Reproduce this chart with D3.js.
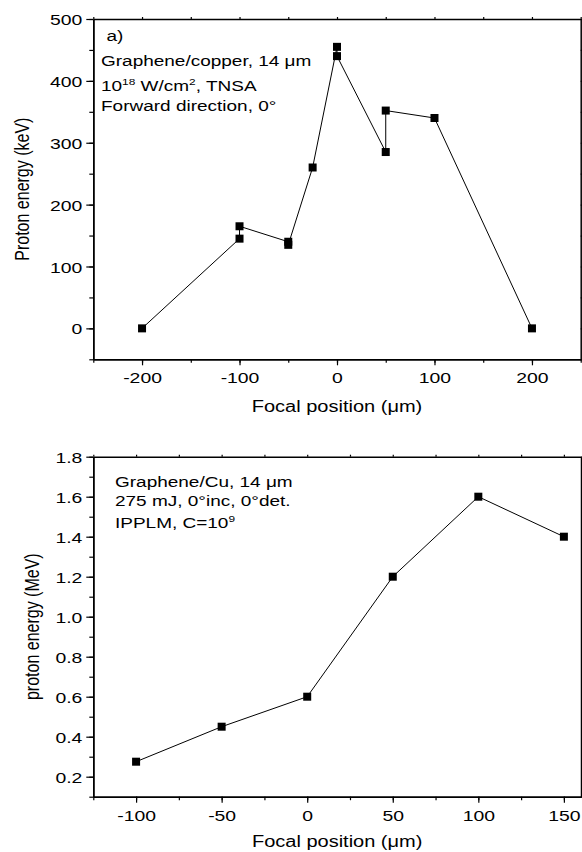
<!DOCTYPE html>
<html>
<head>
<meta charset="utf-8">
<script src="https://cdn.jsdelivr.net/npm/d3@7"></script>
<style>
	body { margin: 0; background: #fff; }
	text { font-family: 'Liberation Sans', Arial, sans-serif; fill: #000; }
</style>
</head>
<body>
<div class="container"></div>
<script>
// panel a) proton energy vs focal position
var topX = [-200, -100, -100, -50, -50, -25, 0, 0, 50, 50, 100, 200];
var topY = [0, 145, 165, 140, 135, 260, 455, 440, 285, 352, 340, 0];
var topXTicks = [-200, -100, 0, 100, 200];
var topYTicks = [0, 100, 200, 300, 400, 500];

// panel b)
var botX = [-100, -50, 0, 50, 100, 150];
var botY = [0.275, 0.45, 0.6, 1.2, 1.6, 1.4];
var botXTicks = [-100, -50, 0, 50, 100, 150];
var botYTicks = [0.2, 0.4, 0.6, 0.8, 1.0, 1.2, 1.4, 1.6, 1.8];

const WIDTH = 582;
const HEIGHT = 852;
const SX = 1.25; // the figure is stretched sideways

var svg = d3.select('.container').append('svg')
	.attr('width', WIDTH)
	.attr('height', HEIGHT);

var stretch = function(sel, x, y){
	sel.attr('x', null).attr('y', null).attr('dy', null)
		.attr('transform', 'translate(' + x + ',' + y + ') scale(' + SX + ',1)');
}

var plain = function(d){ return String(d); };
var oneDec = function(d){ return d.toFixed(1); };

var drawPanel = function(p){
	var xScale = d3.scaleLinear().domain(p.xDomain).range([p.left, p.right]);
	var yScale = d3.scaleLinear().domain(p.yDomain).range([p.bottom, p.top]);

	var minorX = d3.range(p.xDomain[0], p.xDomain[1] + 0.001, p.xMinor);
	var minorY = d3.range(p.yDomain[0], p.yDomain[1] + 0.001, p.yMinor);

	// minor ticks
	svg.append('g').attr('transform', 'translate(0,' + p.bottom + ')')
		.call(d3.axisBottom(xScale).tickValues(minorX).tickSize(3.5).tickSizeOuter(0).tickFormat(''));
	svg.append('g').attr('transform', 'translate(' + p.left + ',0)')
		.call(d3.axisLeft(yScale).tickValues(minorY).tickSize(4).tickSizeOuter(0).tickFormat(''));
	svg.append('g').attr('transform', 'translate(0,' + p.top + ')')
		.call(d3.axisTop(xScale).tickValues(minorX).tickSize(2).tickSizeOuter(0).tickFormat(''));
	svg.append('g').attr('transform', 'translate(' + p.right + ',0)')
		.call(d3.axisRight(yScale).tickValues(minorY).tickSize(3).tickSizeOuter(0).tickFormat(''));

	// major ticks with labels
	var xAxis = svg.append('g').attr('transform', 'translate(0,' + p.bottom + ')')
		.call(d3.axisBottom(xScale).tickValues(p.xTicks).tickSize(6).tickSizeOuter(0).tickFormat(p.xFormat));
	var yAxis = svg.append('g').attr('transform', 'translate(' + p.left + ',0)')
		.call(d3.axisLeft(yScale).tickValues(p.yTicks).tickSize(7).tickSizeOuter(0).tickFormat(p.yFormat));

	xAxis.selectAll('text').style('font-size', '15.5px').attr('text-anchor', 'middle')
		.each(function(){ stretch(d3.select(this), 0, 24); });
	yAxis.selectAll('text').style('font-size', '15.5px').attr('text-anchor', 'end')
		.each(function(){ stretch(d3.select(this), -11, 0); })
		.attr('dy', '0.36em');

	svg.selectAll('.domain').attr('stroke-width', 1.5);
	svg.selectAll('.tick line').attr('stroke-width', 1.2);

	// x title
	svg.append('text')
		.style('font-size', '16px')
		.attr('text-anchor', 'middle')
		.call(stretch, (p.left + p.right) / 2, p.bottom + p.xTitleDy)
		.text('Focal position (μm)');

	// y title
	svg.append('text')
		.style('font-size', '16px')
		.attr('text-anchor', 'middle')
		.attr('transform', 'translate(' + p.yTitleX + ',' + (p.top + p.bottom) / 2 + ') scale(' + SX + ',1) rotate(-90)')
		.text(p.yTitle);

	var points = p.xs.map(function(x, i){ return [x, p.ys[i]]; });

	var line = d3.line()
		.x(function(d){ return xScale(d[0]); })
		.y(function(d){ return yScale(d[1]); });

	svg.append('path').datum(points)
		.attr('d', line)
		.attr('fill', 'none')
		.attr('stroke', '#000')
		.attr('stroke-width', 1);

	svg.append('g').selectAll('rect').data(points)
		.enter().append('rect')
		.attr('x', function(d){ return xScale(d[0]) - 4; })
		.attr('y', function(d){ return yScale(d[1]) - 4; })
		.attr('width', 8)
		.attr('height', 8)
		.attr('fill', '#000');

	// annotation lines
	p.notes.forEach(function(n){
		var t = svg.append('text').style('font-size', '15.2px').call(stretch, n.x, n.y);
		n.parts.forEach(function(part){
			var s = t.append('tspan').text(part[0]);
			if (part[1]) s.style('font-size', '9.5px').attr('dy', '-6');
			else if (part[2]) s.attr('dy', '6');
		});
	});
}

drawPanel({
	left: 93.3, right: 580.7, top: 19, bottom: 359.3,
	xDomain: [-250, 250], yDomain: [-50, 500],
	xMinor: 50, yMinor: 50,
	xTicks: topXTicks, yTicks: topYTicks,
	xFormat: plain, yFormat: plain,
	xs: topX, ys: topY,
	xTitleDy: 52.4,
	yTitleX: 29, yTitle: 'Proton energy (keV)',
	notes: [
		{x: 106.5, y: 40.5, parts: [['a)']]},
		{x: 101, y: 66, parts: [['Graphene/copper, 14 μm']]},
		{x: 101, y: 90.7, parts: [['10'], ['18', true], [' W/cm', false, true], ['2', true], [', TNSA', false, true]]},
		{x: 101, y: 111, parts: [['Forward direction, 0°']]}
	]
});

drawPanel({
	left: 93.3, right: 581, top: 456.7, bottom: 796.7,
	xDomain: [-125, 160], yDomain: [0.1, 1.8],
	xMinor: 25, yMinor: 0.1,
	xTicks: botXTicks, yTicks: botYTicks,
	xFormat: plain, yFormat: oneDec,
	xs: botX, ys: botY,
	xTitleDy: 50,
	yTitleX: 39, yTitle: 'proton energy (MeV)',
	notes: [
		{x: 115, y: 486.7, parts: [['Graphene/Cu, 14 μm']]},
		{x: 115, y: 505.5, parts: [['275 mJ, 0°inc, 0°det.']]},
		{x: 115, y: 528.3, parts: [['IPPLM, C=10'], ['9', true]]}
	]
});
</script>
</body>
</html>
